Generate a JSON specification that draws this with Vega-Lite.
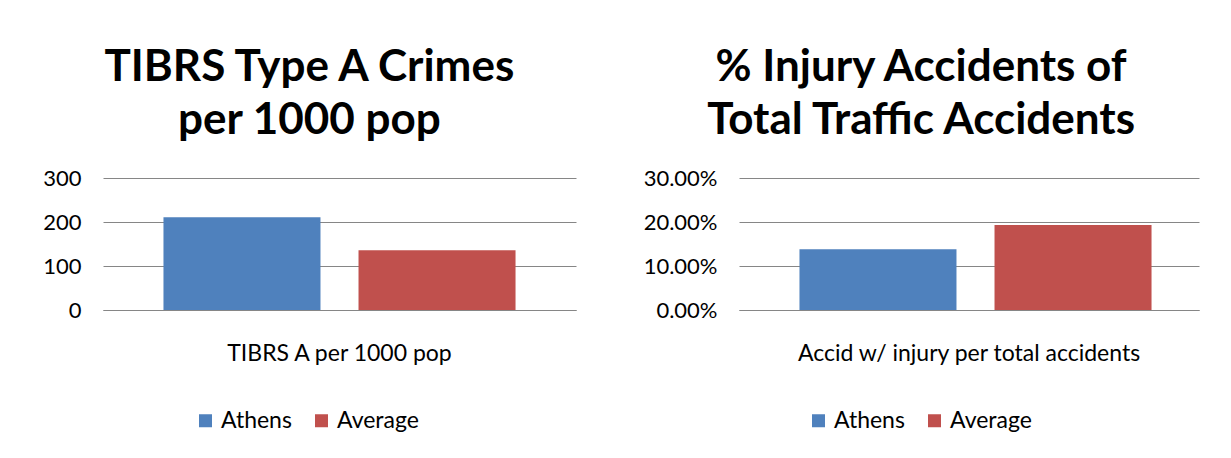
{
  "$schema": "https://vega.github.io/schema/vega-lite/v6.json",
  "padding": {"left": 42, "top": 46, "right": 5, "bottom": 0},
  "background": "white",
  "config": {
    "font": "Lato",
    "view": {"stroke": null},
    "axis": {"labelFont": "Lato", "labelFontSize": 22, "labelColor": "#000000", "labelLimit": 0, "gridColor": "#868686", "gridWidth": 1, "domain": false, "ticks": false, "titleFont": "Lato"},
    "title": {"font": "Lato", "fontSize": 44, "fontWeight": "bold", "color": "#000000", "anchor": "middle", "frame": "bounds", "lineHeight": 53, "offset": 24},
    "legend": {"labelFont": "Lato", "labelFontSize": 23, "labelColor": "#000000", "labelLimit": 0, "symbolType": "square", "symbolSize": 169, "symbolStrokeWidth": 0, "labelOffset": 4, "columnPadding": 18},
    "concat": {"spacing": 67}
  },
  "resolve": {"scale": {"color": "independent", "y": "independent", "x": "independent"}, "legend": {"color": "independent"}},
  "hconcat": [
    {
      "title": {"text": ["TIBRS Type A Crimes", "per 1000 pop"]},
      "width": 473,
      "height": 132,
      "data": {"values": [
        {"metric": "TIBRS A per 1000 pop", "series": "Athens", "value": 211},
        {"metric": "TIBRS A per 1000 pop", "series": "Average", "value": 136}
      ]},
      "mark": {"type": "bar"},
      "encoding": {
        "x": {"field": "metric", "type": "nominal", "scale": {"paddingInner": 0, "paddingOuter": 0}, "axis": {"title": null, "labelAngle": 0, "labelPadding": 32, "labelFontSize": 23, "grid": false, "domain": true, "domainColor": "#868686"}},
        "xOffset": {"field": "series", "type": "nominal", "scale": {"paddingInner": 0.195, "paddingOuter": 0.31}},
        "y": {"field": "value", "type": "quantitative", "scale": {"domain": [0, 300]}, "axis": {"title": null, "values": [0, 100, 200, 300], "labelPadding": 22, "minExtent": 60, "maxExtent": 60}},
        "color": {"field": "series", "type": "nominal", "scale": {"domain": ["Athens", "Average"], "range": ["#4F81BD", "#C0504D"]}, "legend": {"title": null, "orient": "none", "direction": "horizontal", "legendX": 91, "legendY": 231}}
      }
    },
    {
      "title": {"text": ["% Injury Accidents of", "Total Traffic Accidents"]},
      "width": 460,
      "height": 132,
      "data": {"values": [
        {"metric": "Accid w/ injury per total accidents", "series": "Athens", "value": 0.138},
        {"metric": "Accid w/ injury per total accidents", "series": "Average", "value": 0.193}
      ]},
      "mark": {"type": "bar"},
      "encoding": {
        "x": {"field": "metric", "type": "nominal", "scale": {"paddingInner": 0, "paddingOuter": 0}, "axis": {"title": null, "labelAngle": 0, "labelPadding": 32, "labelFontSize": 23, "grid": false, "domain": true, "domainColor": "#868686"}},
        "xOffset": {"field": "series", "type": "nominal", "scale": {"paddingInner": 0.19, "paddingOuter": 0.31}},
        "y": {"field": "value", "type": "quantitative", "scale": {"domain": [0, 0.3]}, "axis": {"title": null, "values": [0, 0.1, 0.2, 0.3], "format": ".2%", "labelPadding": 22, "minExtent": 90, "maxExtent": 90}},
        "color": {"field": "series", "type": "nominal", "scale": {"domain": ["Athens", "Average"], "range": ["#4F81BD", "#C0504D"]}, "legend": {"title": null, "orient": "none", "direction": "horizontal", "legendX": 68, "legendY": 231}}
      }
    }
  ]
}
